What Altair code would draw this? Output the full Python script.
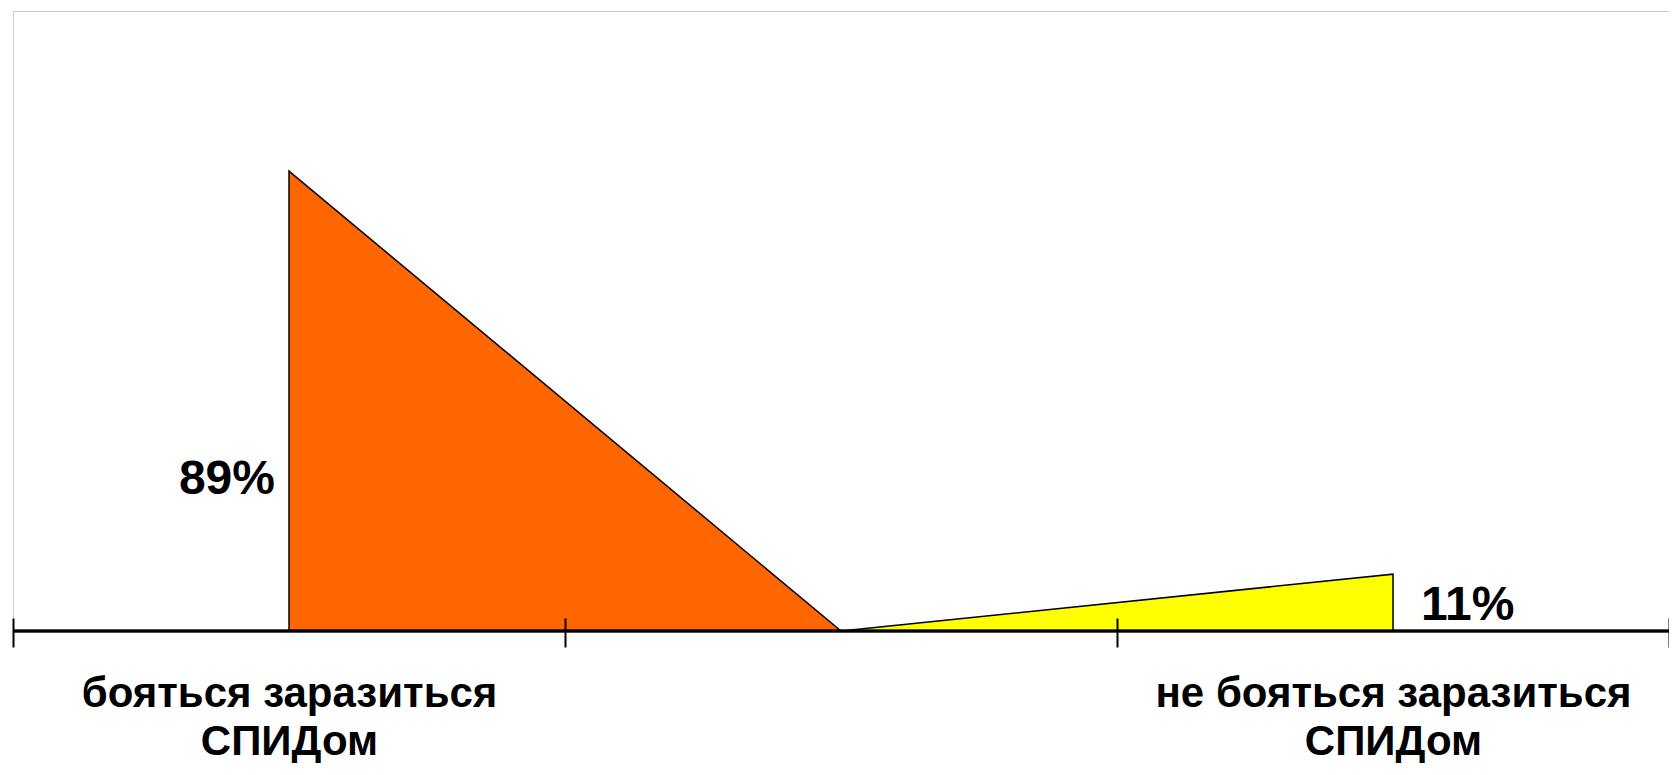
import altair as alt
import pandas as pd

# ---- data ----
categories = ["бояться заразиться\nСПИДом", " ", "не бояться заразиться\nСПИДом"]

series_names = ["бояться", "не бояться"]
series_colors = ["#FF6600", "#FFFF00"]

fear_cats = [categories[0], categories[1]]
fear_vals = [89, 0]

nofear_cats = [categories[1], categories[2]]
nofear_vals = [0, 11]

label_cats = [categories[0], categories[2]]
label_texts = ["89%", "11%"]

# ---- tables ----
area_df = pd.DataFrame({
    "cat": fear_cats + nofear_cats,
    "value": fear_vals + nofear_vals,
    "series": [series_names[0]] * len(fear_cats) + [series_names[1]] * len(nofear_cats),
})
lab_df = pd.DataFrame({"cat": label_cats, "text": label_texts})

FONT = "Liberation Sans"
W, H = 1656, 620
PAD_TOP, PAD_LEFT, PAD_BOTTOM = 3, 5, 132

x_enc = alt.X(
    "cat:N",
    scale=alt.Scale(type="band", domain=categories, paddingInner=0, paddingOuter=0),
    bandPosition=0.5,
    sort=None,
    axis=alt.Axis(
        title=None,
        domain=False,
        grid=False,
        ticks=True,
        tickBand="extent",
        tickSize=29,
        tickWidth=2,
        tickColor="black",
        offset=-13,
        labelAngle=0,
        labelFont=FONT,
        labelFontSize=42,
        labelFontWeight="bold",
        labelColor="black",
        labelPadding=26,
        labelLineHeight=48,
        labelLimit=0,
        labelOverlap=False,
        labelExpr="split(datum.label, '\\n')",
        zindex=1,
    ),
)
y_scale = alt.Scale(domain=[0, 120], nice=False, zero=True)

areas = alt.Chart(area_df).mark_area(stroke="black", strokeWidth=1.5, opacity=1).encode(
    x=x_enc,
    y=alt.Y("value:Q", scale=y_scale, axis=None, stack=None),
    color=alt.Color("series:N", scale=alt.Scale(domain=series_names, range=series_colors), legend=None),
    detail="series:N",
)

baseline = alt.Chart(area_df).mark_rule(color="black", strokeWidth=2.5).encode(
    y=alt.datum(0, scale=y_scale),
)

lab1 = alt.Chart(lab_df.iloc[[0]]).mark_text(
    font=FONT, fontSize=48, fontWeight="bold", color="black",
    align="right", baseline="alphabetic", dx=-14, dy=-137,
).encode(
    x=alt.X("cat:N", bandPosition=0.5),
    y=alt.datum(0),
    text="text:N",
)
lab2 = alt.Chart(lab_df.iloc[[1]]).mark_text(
    font=FONT, fontSize=48, fontWeight="bold", color="black",
    align="left", baseline="alphabetic", dx=28, dy=-11,
).encode(
    x=alt.X("cat:N", bandPosition=0.5),
    y=alt.datum(0),
    text="text:N",
)

chart = alt.layer(areas, baseline, lab1, lab2).properties(
    width=W,
    height=H,
    autosize=alt.AutoSizeParams(type="none"),
    padding={"left": PAD_LEFT, "top": PAD_TOP, "right": 0, "bottom": PAD_BOTTOM},
    background="white",
).configure_view(
    stroke="#c8c8c8", strokeWidth=1,
)

chart.save("out.html", embed_options={"renderer": "svg", "actions": False})
